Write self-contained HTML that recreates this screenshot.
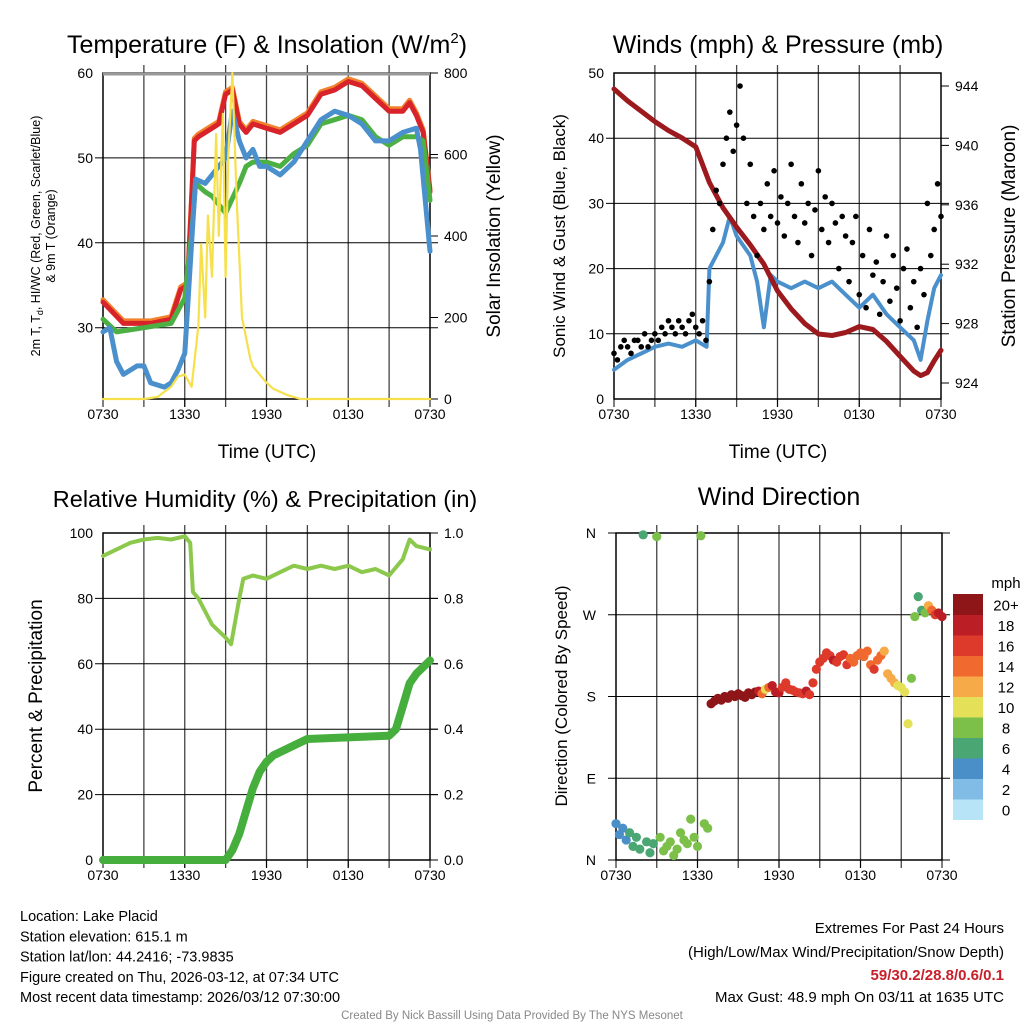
<!DOCTYPE html>
<html><head><meta charset="utf-8"><style>
body{margin:0;background:#fff}
svg{font-family:"Liberation Sans",sans-serif}
</style></head><body>
<svg id="s" width="1024" height="1024" viewBox="0 0 1024 1024" xmlns="http://www.w3.org/2000/svg">
<g id="g"></g>
</svg>
<script>
// ---- data ----
const timeTicks=["0730","1330","1930","0130","0730"];
const tempT=[0,1.5,3.5,5,5.7,6.2,6.5,6.7,7,8,8.5,9,9.5,10,10.5,11,12,13,14,15,16,17,18,19,20,21,22,22.5,23,23.5,24];
const tempV=[33,30.5,30.5,31,34.5,35,45,52,52.5,53.5,54,57.5,58,54,53,54,53.5,53,54,55,57.5,58,59,58.5,57,55.5,55.5,56.5,55,53,46];
const dewT=[0,1,3,5,6,6.5,6.8,7.5,8,9,10,10.5,11,12,13,14,15,16,17,18,19,20,21,22,23,23.5,24];
const dewV=[31,29.5,30,30.5,33.5,41,47,46,45.5,43.5,47,49,49.5,49.5,49,50.5,51.5,54,54.5,55,54.5,52.5,51.5,52.5,52.5,52,45];
const wcT=[0,0.5,1,1.5,2.5,3,3.5,4.5,5,5.5,6,6.5,6.8,7.5,8,9,9.5,10,10.5,11,11.5,12,13,14,15,16,17,18,19,20,21,22,23,23.3,24];
const wcV=[29.5,30,26,24.5,25.5,25.5,23.5,23,23.5,25,27,40,47.5,47,48,50,55.5,52,50,51,49,49,48,49.5,52,54.5,55.5,55,54,52,52,53,53.5,51,39];
const solT=[0,3,4,5,5.5,6,6.5,7,7.2,7.5,7.7,8,8.3,8.5,8.8,9,9.2,9.5,9.8,10.2,10.8,11,11.5,12,12.5,13.5,14.5,24];
const solV=[0,0,5,30,55,60,30,180,380,200,450,300,650,400,700,300,600,800,500,200,100,80,60,40,25,10,0,0];
const windT=[0,1,2,3,4,5,6,6.8,7,7.5,8,8.5,9,10,10.5,11,11.5,12,13,14,15,16,17,18,19,20,21,22,22.5,23,23.5,24];
const windV=[4.5,6,7,8,8.5,8,9,8,20,22,24,28,25,22,18,11,19,18,17,18,17,18,16,14,16,13,11,9,6,12,17,19];
const presT=[0,1,2,3,4,5,6,7,8,9,10,11,12,13,14,15,16,17,18,19,20,21,22,22.5,23,23.5,24];
const presV=[943.8,943,942.3,941.6,941,940.5,939.9,937.5,935.8,934.5,933.3,932,930.2,929,928,927.3,927.2,927.4,927.8,927.6,926.8,925.8,924.8,924.5,924.7,925.5,926.2];
const gustV=[7,6,8,9,8,7,9,9,8,10,8,9,10,9,11,10,12,11,10,12,11,10,12,13,11,10,12,9,
18,26,32,30,36,40,44,38,42,48,40,30,36,28,
22,30,26,33,28,35,27,31,25,30,36,28,24,33,27,30,22,29,35,26,31,24,30,27,20,28,25,
18,24,28,16,22,14,26,19,21,13,18,25,15,22,17,12,20,23,14,18,11,20,16,30,22,26,33,28];
const dirV=[40,28,35,22,30,15,25,12,358,20,8,18,356,25,10,15,20,5,12,30,22,18,45,25,15,357,40,35,
172,175,178,176,180,178,182,180,183,181,179,184,182,185,
186,183,188,190,192,185,184,190,195,188,187,185,184,183,186,182,195,210,218,222,228,225,220,218,224,226,215,
222,218,225,228,224,230,215,210,220,225,230,205,200,195,192,190,185,150,200,268,290,275,272,280,275,270,272,268];
const rhT=[0,1,2,3,4,5,6,6.4,6.6,7,7.5,8,8.5,9,9.4,9.7,10,10.3,11,12,13,14,15,16,17,18,19,20,21,22,22.5,23,24];
const rhV=[93,95,97,98,98.5,98,99,97,82,80,76,72,70,68,66,73,80,86,87,86,88,90,89,90,89,90,88,89,87,92,98,96,95];
const prT=[0,9,9.5,10,10.5,11,11.5,12,12.5,13,14,15,21,21.5,22,22.5,23,24];
const prV=[0,0,0.03,0.08,0.15,0.22,0.27,0.30,0.32,0.33,0.35,0.37,0.38,0.40,0.47,0.54,0.57,0.61];
const spdTicks=["0","2","4","6","8","10","12","14","16","18","20+"];
const spdColors=["#b8e4f8","#80bce6","#4a8fc8","#4aa672","#7cc04a","#e4e058","#f6aa48","#f06a30","#de3a2c","#bc1e26","#8e1618"];

// ---- helpers ----
const NS="http://www.w3.org/2000/svg";
const G=document.getElementById('g');
function el(tag,at,parent){const e=document.createElementNS(NS,tag);for(const k in at)e.setAttribute(k,at[k]);(parent||G).appendChild(e);return e;}
function txt(x,y,s,size,anchor,extra){const e=el('text',Object.assign({x:x,y:y,'font-size':size,'text-anchor':anchor||'middle',fill:'#000'},extra||{}));e.textContent=s;return e;}
function lin(x0,x1,d0,d1){return v=>x0+(v-d0)/(d1-d0)*(x1-x0);}
function interp(T,V,t){if(t<=T[0])return V[0];for(let i=1;i<T.length;i++){if(t<=T[i]){const f=(t-T[i-1])/(T[i]-T[i-1]);return V[i-1]+f*(V[i]-V[i-1]);}}return V[V.length-1];}
function path(T,V,xs,ys,stroke,w,name){const d=T.map((t,i)=>(i?'L':'M')+xs(t).toFixed(1)+','+ys(V[i]).toFixed(1)).join('');const p=el('path',{d:d,fill:'none',stroke:stroke,'stroke-width':w,'stroke-linejoin':'round','stroke-linecap':'round'});return p;}
function frame(L,R,T,B,name){
  for(let h=3;h<24;h+=3){const x=lin(L,R,0,24)(h);const l=el('line',{x1:x,x2:x,y1:T-8,y2:B+8,stroke:'#444','stroke-width':1.3});}
  const r=el('rect',{x:L,y:T,width:R-L,height:B-T,fill:'none',stroke:'#000','stroke-width':1.5});
  
  timeTicks.forEach((s,i)=>{const x=lin(L,R,0,24)(i*6);el('line',{x1:x,x2:x,y1:B,y2:B+8,stroke:'#000'});const t=txt(x,B+20,s,14);});
}
function hgrid(L,R,y){const l=el('line',{x1:L-8,x2:R+8,y1:y,y2:y,stroke:'#000','stroke-width':1});}

// ---- Panel 1 ----
{const L=103,R=430,T=73,B=399;const xs=lin(L,R,0,24),ys=lin(B,T,21.6,60),ys2=lin(B,T,0,800);
 frame(L,R,T,B,'temperature-plot-area');
 [30,40,50].forEach(v=>hgrid(L,R,ys(v)));
 el('line',{x1:L,x2:R,y1:T+1,y2:T+1,stroke:'#999','stroke-width':3});
 [30,40,50,60].forEach(v=>{const t=txt(L-10,ys(v)+5,String(v),14,'end');});
 [0,200,400,600,800].forEach(v=>{el('line',{x1:R,x2:R+8,y1:ys2(v),y2:ys2(v),stroke:'#000'});const t=txt(R+14,ys2(v)+5,String(v),14,'start');});
 path(tempT,tempV.map(v=>v+0.3),xs,ys,'#f2822c',5,'orange-9m-temp-line');
 path(tempT,tempV,xs,ys,'#d8232a',5,'red-temp-line');
 path(dewT,dewV,xs,ys,'#4db043',5,'green-dewpoint-line');
 path(wcT,wcV,xs,ys,'#4a90cc',5,'blue-windchill-line');
 path(solT,solV,xs,ys2,'#f6e04c',2.2,'yellow-insolation-line');
 const t1=txt(267,53,'',25);t1.innerHTML='Temperature (F) &amp; Insolation (W/m<tspan dy="-10" font-size="15">2</tspan><tspan dy="10">)</tspan>';
 const xl=txt(267,458,'Time (UTC)',19);
 const yl=txt(0,0,'',12.5,'middle',{transform:'translate(40,236) rotate(-90)'});yl.innerHTML='2m T, T<tspan dy="3" font-size="9">d</tspan><tspan dy="-3">, HI/WC (Red, Green, Scarlet/Blue)</tspan>';
 const yl2=txt(0,0,'& 9m T (Orange)',12.5,'middle',{transform:'translate(55,236) rotate(-90)'});
 const yr=txt(0,0,'Solar Insolation (Yellow)',19,'middle',{transform:'translate(500,236) rotate(-90)'});
}
// ---- Panel 2 ----
{const L=614,R=941,T=73,B=399;const xs=lin(L,R,0,24),ys=lin(B,T,0,50),yp=lin(383,86,924,944);
 frame(L,R,T,B,'winds-plot-area');
 [10,20,30,40].forEach(v=>hgrid(L,R,ys(v)));
 [0,10,20,30,40,50].forEach(v=>{const t=txt(L-10,ys(v)+5,String(v),14,'end');});
 [924,928,932,936,940,944].forEach(v=>{el('line',{x1:R,x2:R+8,y1:yp(v),y2:yp(v),stroke:'#000'});const t=txt(R+14,yp(v)+5,String(v),14,'start');});
 path(windT,windV,xs,ys,'#4a90cc',4,'sonic-wind-line');
 path(presT,presV,xs,yp,'#9c1a1e',5,'pressure-line');
 gustV.forEach((v,i)=>{const c=el('circle',{cx:xs(i*0.25),cy:ys(v),r:2.8,fill:'#000'});});
 const t1=txt(778,53,'Winds (mph) & Pressure (mb)',25);
 const xl=txt(778,458,'Time (UTC)',19);
 const yl=txt(0,0,'Sonic Wind & Gust (Blue, Black)',17,'middle',{transform:'translate(565,236) rotate(-90)'});
 const yr=txt(0,0,'Station Pressure (Maroon)',19,'middle',{transform:'translate(1015,236) rotate(-90)'});
}
// ---- Panel 3 ----
{const L=103,R=430,T=533,B=860;const xs=lin(L,R,0,24),ys=lin(B,T,0,100),yr2=lin(B,T,0,1);
 frame(L,R,T,B,'humidity-plot-area');
 [20,40,60,80].forEach(v=>hgrid(L,R,ys(v)));
 [0,20,40,60,80,100].forEach(v=>{const t=txt(L-10,ys(v)+5,String(v),14,'end');});
 [0,0.2,0.4,0.6,0.8,1.0].forEach(v=>{el('line',{x1:R,x2:R+8,y1:yr2(v),y2:yr2(v),stroke:'#000'});const t=txt(R+14,yr2(v)+5,v.toFixed(1),14,'start');});
 path(rhT,rhV,xs,ys,'#8cc84c',4,'relative-humidity-line');
 path(prT,prV,xs,yr2,'#46ae3c',8,'precipitation-line');
 const t1=txt(265,507,'Relative Humidity (%) & Precipitation (in)',23.5);
 const yl=txt(0,0,'Percent & Precipitation',19,'middle',{transform:'translate(42,696) rotate(-90)'});
}
// ---- Panel 4 ----
{const L=616,R=942,T=533,B=860;const xs=lin(L,R,0,24),ys=lin(B,T,0,360);
 frame(L,R,T,B,'wind-direction-plot-area');
 [90,180,270].forEach(v=>hgrid(L,R,ys(v)));
 el('line',{x1:L-8,x2:R+8,y1:T,y2:T,stroke:'#000'});el('line',{x1:L-8,x2:R+8,y1:B,y2:B,stroke:'#000'});
 ["N","E","S","W","N"].forEach((s,i)=>{const t=txt(L-20,ys(i*90)+5,s,14,'end');});
 dirV.forEach((d,i)=>{const t=i*0.25;const sp=interp(windT,windV,t);const ci=Math.min(10,Math.max(0,Math.floor(sp/2)));
   const c=el('circle',{cx:xs(t),cy:ys(d),r:4.6,fill:spdColors[ci]});});
 const t1=txt(779,505,'Wind Direction',25);
 const yl=txt(0,0,'Direction (Colored By Speed)',17,'middle',{transform:'translate(567,696) rotate(-90)'});
 const cb=el('g',{});
 const h=20.5;spdColors.forEach((c,i)=>{const y=594+(10-i)*h;el('rect',{x:953,y:y,width:30,height:h+0.5,fill:c},cb);const t=txt(1006,y+h/2+6,spdTicks[i],15,'middle');});
 const mt=txt(1006,588,'mph',15);
}
// ---- footer ----
["Location: Lake Placid","Station elevation: 615.1 m","Station lat/lon: 44.2416; -73.9835","Figure created on Thu, 2026-03-12, at 07:34 UTC","Most recent data timestamp: 2026/03/12 07:30:00"].forEach((s,i)=>{const t=txt(20,921+i*20.3,s,14.5,'start');});
{const a=txt(1004,933,'Extremes For Past 24 Hours',15,'end');
 const b=txt(1004,957,'(High/Low/Max Wind/Precipitation/Snow Depth)',15,'end');
 const c=txt(1004,980,'59/30.2/28.8/0.6/0.1',15,'end',{fill:'#c8202a','font-weight':'bold'});
 const d=txt(1004,1002,'Max Gust: 48.9 mph On 03/11 at 1635 UTC',15,'end');
 const e=txt(512,1019,'Created By Nick Bassill Using Data Provided By The NYS Mesonet',11.5,'middle',{fill:'#888'});}
</script>
</body></html>
